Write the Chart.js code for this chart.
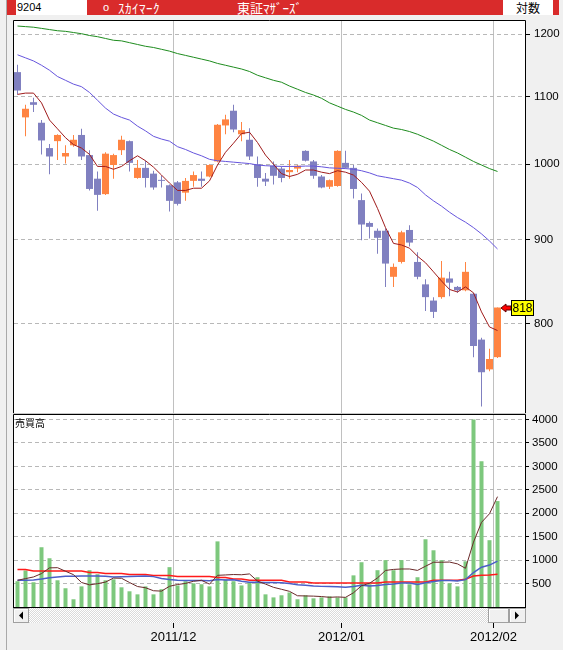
<!DOCTYPE html>
<html lang="ja">
<head>
<meta charset="utf-8">
<title>9204 スカイマーク 日足チャート</title>
<script src="https://cdn.jsdelivr.net/npm/chart.js@4.4.1/dist/chart.umd.min.js"></script>
<style>
html,body{margin:0;padding:0;background:#f0f0f0;overflow:hidden}
#page{position:relative;width:563px;height:650px;background:#f0f0f0;overflow:hidden}
.a{position:absolute}
.t{position:absolute;top:0;height:15px;line-height:15px;white-space:nowrap;font-family:'Noto Sans CJK JP',sans-serif;font-size:13px}
canvas{position:absolute;left:0;display:block}
</style>
</head>
<body>
<div id="page">
  <div class="a" style="left:6px;top:0;width:1px;height:650px;background:#a9a9a9"></div>
  <div class="a" style="left:7px;top:0;width:552px;height:15px;background:#d92b2b"></div>
  <div class="a" style="left:16px;top:0;width:71px;height:15px;background:#ffffff"></div>
  <div class="t" style="left:17px;color:#000;font-family:'Liberation Sans',sans-serif;font-size:11px">9204</div>
  <div class="t" style="left:103px;color:#fff;font-family:'Liberation Sans',sans-serif;font-size:11px">o</div>
  <div class="t" style="left:118px;color:#fff;letter-spacing:0.5px">ｽｶｲﾏｰｸ</div>
  <div class="t" style="left:237px;color:#fff">東証ﾏｻﾞｰｽﾞ</div>
  <div class="a" style="left:503px;top:0;width:50px;height:15px;background:#ffffff"></div>
  <div class="t" style="left:503px;width:50px;text-align:center;color:#000;font-size:12px">対数</div>
  <canvas id="priceChart" width="563" height="414" style="top:0"></canvas>
  <canvas id="volumeChart" width="563" height="236" style="top:414px"></canvas>
  <div class="t" style="left:15px;top:417px;height:12px;line-height:12px;font-size:10px;color:#000">売買高</div>
</div>
<script>
// ---- data ----
const dates = [
  '2011/11/01','2011/11/02','2011/11/04','2011/11/07','2011/11/08','2011/11/09','2011/11/10','2011/11/11','2011/11/14','2011/11/15',
  '2011/11/16','2011/11/17','2011/11/18','2011/11/21','2011/11/22','2011/11/24','2011/11/25','2011/11/28','2011/11/29','2011/11/30',
  '2011/12/01','2011/12/02','2011/12/05','2011/12/06','2011/12/07','2011/12/08','2011/12/09','2011/12/12','2011/12/13','2011/12/14',
  '2011/12/15','2011/12/16','2011/12/19','2011/12/20','2011/12/21','2011/12/22','2011/12/26','2011/12/27','2011/12/28','2011/12/29',
  '2011/12/30','2012/01/04','2012/01/05','2012/01/06','2012/01/10','2012/01/11','2012/01/12','2012/01/13','2012/01/16','2012/01/17',
  '2012/01/18','2012/01/19','2012/01/20','2012/01/23','2012/01/24','2012/01/25','2012/01/26','2012/01/27','2012/01/30','2012/01/31',
  '2012/02/01'
];
const open = [1138,1068,1091,1060,1023,1033,1011,1027,1042,1013,980,959,999,1020,1033,981,995,987,978,971,
  975,961,977,980,983,1004,1056,1078,1043,1035,1000,980,998,994,989,994,1019,1004,983,969,
  970,1002,995,951,921,911,911,854,872,912,872,845,826,830,852,842,838,834,782,750,763];
const high = [1150,1087,1098,1064,1029,1043,1027,1042,1051,1020,990,1017,1015,1041,1034,1006,1005,991,984,972,
  977,981,990,990,1000,1058,1072,1087,1061,1052,1011,988,1004,997,1006,999,1020,1006,985,979,
  1020,1019,999,960,923,914,914,870,911,918,884,851,830,873,860,843,872,835,784,772,818];
const low = [1103,1040,1076,1014,986,1006,1001,1025,1006,964,937,958,980,1013,990,980,968,965,968,936,
  944,950,969,969,982,1003,1043,1046,1033,1006,969,970,972,975,980,989,1004,980,967,966,
  969,994,953,899,901,882,842,842,870,891,851,814,806,828,831,835,837,763,712,748,762];
const close = [1109,1081,1087,1034,1011,1042,1016,1035,1011,966,958,1015,1013,1035,1002,995,981,968,977,950,
  946,977,985,977,999,1057,1065,1050,1049,1011,981,976,984,981,992,998,1005,984,968,978,
  1019,995,966,919,916,902,870,866,909,896,854,830,813,853,847,838,860,775,747,761,818];
const ma5 = [1103,1105,1105,1090,1064,1051,1038,1028,1023,1014,997,997,993,997,1005,1012,1005,996,985,974,
  964,964,967,967,977,999,1017,1030,1044,1046,1031,1013,1000,987,983,986,992,992,989,987,
  991,989,985,975,963,940,915,895,893,889,879,871,860,849,839,836,842,835,813,796,792];
const ma25 = [1166,1161,1156,1149,1141,1131,1125,1119,1115,1106,1094,1082,1073,1068,1064,1055,1048,1040,1036,1033,
  1025,1021,1016,1012,1007,1005,1004,1003,1002,1001,999,998,997.5,997,997,997,997.5,997.5,996.5,995,
  994.5,994,993,991,988,984,982,980,978,974,968,958,950,943,935,928,922,915,907,898,888];
const ma75 = [1214,1213,1212,1210,1208,1206,1205,1203,1201,1198,1196,1193,1190,1189,1186,1183,1180,1178,1175,1172,
  1168,1165,1162,1159,1156,1152,1149,1146,1143,1139,1133,1129,1125,1122,1116,1111,1106,1102,1097,1090,
  1085,1080,1076,1071,1064,1060,1056,1052,1050,1047,1043,1038,1033,1027,1021,1016,1010,1004,999,994,990];
const volume = [550,780,528,1275,1040,570,400,165,440,785,700,570,590,420,335,270,440,270,380,850,
  460,550,505,485,440,1400,590,550,460,528,635,270,205,250,310,165,250,185,205,228,
  205,205,675,955,485,785,1000,785,1000,485,635,1445,1210,1000,505,440,975,4000,3110,1425,2260];
const volMa5 = [570,606,641,713,835,839,763,690,523,472,498,532,617,613,523,437,411,347,339,442,
  480,502,549,570,488,676,684,693,688,706,553,489,420,378,334,240,236,232,223,207,
  215,206,304,454,505,621,780,802,811,811,781,870,955,955,959,920,826,1384,1806,1990,2354];
const volMa25 = [570,572,574,595,625,640,654,657,660,662,663,655,642,645,650,655,662,648,610,585,
  570,564,564,564,558,586,578,579,547,526,529,524,525,518,499,477,464,448,440,435,
  433,423,439,462,448,461,479,490,511,512,482,516,542,564,563,555,584,735,850,894,978];
const volMa75 = [800,800,770,770,770,770,770,770,770,735,735,713,713,713,692,692,692,670,670,670,
  650,650,650,650,650,628,628,598,598,570,570,570,570,570,535,535,535,513,513,513,
  513,513,513,513,513,513,535,535,535,535,535,535,570,570,570,570,592,660,677,685,700];
const priceTicks = [800, 900, 1000, 1100, 1200];
const volumeTicks = [500, 1000, 1500, 2000, 2500, 3000, 3500, 4000];
const priceRange = [705.5, 1222.6];
const volumeRange = [0, 4096];

// ---- styles ----
const AXIS_FONT = "'Liberation Sans Narrow','Liberation Sans',sans-serif";
const UP_COLOR = '#ff8442';
const DOWN_COLOR = '#8080c0';
const X_MIN = -0.4375, X_MAX = 63.4375;

// month boundaries derived from the dates
const monthStart = [];
dates.forEach((d, i) => { if (i > 0 && d.slice(0, 7) !== dates[i - 1].slice(0, 7)) monthStart.push(i); });
const monthTickValues = monthStart.map(i => i - 0.5);
const monthLabels = monthStart.map(i => dates[i].slice(0, 7));

const toPoints = arr => arr.map((v, i) => ({ x: i, y: v }));
const candleColors = close.map((c, i) => (c >= open[i] ? UP_COLOR : DOWN_COLOR));

Chart.defaults.font.family = AXIS_FONT;
Chart.defaults.color = '#000';

const plotFrame = {
  id: 'plotFrame',
  beforeDraw(chart) {
    const { ctx, chartArea: a } = chart;
    ctx.save();
    ctx.fillStyle = '#ffffff';
    ctx.fillRect(a.left, a.top, a.right - a.left, a.bottom - a.top);
    ctx.restore();
  },
  afterDraw(chart, args, opts) {
    const { ctx, chartArea: a } = chart;
    ctx.save();
    ctx.lineWidth = 1;
    ctx.strokeStyle = '#000';
    ctx.beginPath();
    ctx.moveTo(a.left - 0.5, a.bottom + 1);
    ctx.lineTo(a.left - 0.5, a.top - 0.5);
    ctx.lineTo(a.right + 0.5, a.top - 0.5);
    ctx.lineTo(a.right + 0.5, a.bottom + 1);
    ctx.stroke();
    ctx.strokeStyle = opts.bottomColor || '#000';
    ctx.beginPath();
    ctx.moveTo(a.left - 1, a.bottom + 0.5);
    ctx.lineTo(a.right + 1, a.bottom + 0.5);
    ctx.stroke();
    ctx.restore();
  }
};

const lastPrice = {
  id: 'lastPrice',
  afterDraw(chart) {
    const { ctx, chartArea: a, scales } = chart;
    const v = close[close.length - 1];
    const yc = Math.round(scales.y.getPixelForValue(v));
    const bx = a.right - 14, bw = 23, bh = 16;
    ctx.save();
    // arrow
    const ax = a.right - 24;
    ctx.beginPath();
    ctx.moveTo(ax, yc);
    ctx.lineTo(ax + 5, yc - 4);
    ctx.lineTo(ax + 5, yc - 2);
    ctx.lineTo(bx, yc - 2);
    ctx.lineTo(bx, yc + 2);
    ctx.lineTo(ax + 5, yc + 2);
    ctx.lineTo(ax + 5, yc + 4);
    ctx.closePath();
    ctx.fillStyle = '#ff0000';
    ctx.fill();
    ctx.strokeStyle = '#600000';
    ctx.lineWidth = 1;
    ctx.stroke();
    // box
    ctx.fillStyle = '#ffff00';
    ctx.fillRect(bx, yc - 8, bw, bh);
    ctx.strokeStyle = '#000';
    ctx.strokeRect(bx + 0.5, yc - 7.5, bw - 1, bh - 1);
    ctx.fillStyle = '#000';
    ctx.font = '12px ' + AXIS_FONT;
    ctx.textAlign = 'center';
    ctx.textBaseline = 'middle';
    ctx.fillText(String(v), bx + bw / 2, yc + 0.5);
    ctx.restore();
  }
};

const scrollBar = {
  id: 'scrollBar',
  afterDraw(chart) {
    const { ctx, chartArea: a } = chart;
    const top = a.bottom + 1, h = 15, left = a.left - 1, right = a.right + 1;
    const pc = document.createElement('canvas');
    pc.width = 2; pc.height = 2;
    const p = pc.getContext('2d');
    p.fillStyle = '#ffffff'; p.fillRect(0, 0, 2, 2);
    p.fillStyle = '#dadada'; p.fillRect(1, 0, 1, 1); p.fillRect(0, 1, 1, 1);
    ctx.save();
    ctx.fillStyle = ctx.createPattern(pc, 'repeat');
    ctx.fillRect(left, top, right - left, h);
    ctx.lineWidth = 1;
    const btn = (x, w, dir) => {
      ctx.fillStyle = '#f0f0f0';
      ctx.fillRect(x, top, w, h);
      ctx.strokeStyle = '#ffffff';
      ctx.beginPath();
      ctx.moveTo(x + 1.5, top + h - 1);
      ctx.lineTo(x + 1.5, top + 1.5);
      ctx.lineTo(x + w - 1, top + 1.5);
      ctx.stroke();
      ctx.strokeStyle = '#a0a0a0';
      ctx.strokeRect(x + 0.5, top + 0.5, w - 1, h - 1);
      if (dir !== 0) {
        const cx = Math.floor(x + w / 2), cy = Math.floor(top + h / 2) + 0.5;
        ctx.fillStyle = '#000';
        ctx.beginPath();
        ctx.moveTo(cx - 2 * dir, cy);
        ctx.lineTo(cx + 2 * dir, cy - 4);
        ctx.lineTo(cx + 2 * dir, cy + 4);
        ctx.closePath();
        ctx.fill();
      }
    };
    btn(left, 16, 1);
    btn(right - 38, 21, 0);
    btn(right - 17, 17, -1);
    ctx.restore();
  }
};

function xScale(showLabels) {
  return {
    type: 'linear',
    min: X_MIN,
    max: X_MAX,
    bounds: 'data',
    offset: false,
    afterBuildTicks: s => { s.ticks = monthTickValues.map(v => ({ value: v })); },
    afterFit: s => { s.height = showLabels ? 43 : 0; s.paddingLeft = 0; s.paddingRight = 0; },
    grid: {
      display: true, offset: false, color: '#c0c0c0', lineWidth: 1,
      drawTicks: showLabels, tickLength: 21, tickColor: '#000', tickWidth: 1, tickBorderDash: []
    },
    border: { display: false, dash: [] },
    ticks: {
      display: showLabels, autoSkip: false, maxRotation: 0, minRotation: 0, padding: 2,
      color: '#000', font: { family: AXIS_FONT, size: 13 },
      callback: (v, i) => monthLabels[i]
    }
  };
}

function yScale(type, range, tickValues, tickLength, padding) {
  return {
    type: type,
    position: 'right',
    min: range[0],
    max: range[1],
    bounds: 'data',
    beginAtZero: false,
    afterBuildTicks: s => { s.ticks = tickValues.map(v => ({ value: v })); },
    afterFit: s => { s.width = 38; s.paddingTop = 0; s.paddingBottom = 0; },
    grid: {
      display: true, color: '#b8b8b8', lineWidth: 1,
      drawTicks: true, tickLength: tickLength, tickColor: '#000', tickWidth: 1, tickBorderDash: []
    },
    border: { display: false, dash: [4, 3] },
    ticks: {
      autoSkip: false, padding: padding, color: '#000',
      font: { family: AXIS_FONT, size: 11.5 },
      callback: v => String(v)
    }
  };
}

const baseOptions = {
  responsive: false,
  maintainAspectRatio: false,
  animation: false,
  devicePixelRatio: 1,
  events: []
};

new Chart(document.getElementById('priceChart'), {
  type: 'bar',
  data: {
    datasets: [
      { type: 'line', label: '5日移動平均', data: toPoints(ma5), borderColor: '#a01c1c', borderWidth: 1, pointRadius: 0, tension: 0, order: 0 },
      { type: 'line', label: '25日移動平均', data: toPoints(ma25), borderColor: '#6655dd', borderWidth: 1, pointRadius: 0, tension: 0, order: 0 },
      { type: 'line', label: '75日移動平均', data: toPoints(ma75), borderColor: '#1e8c1e', borderWidth: 1, pointRadius: 0, tension: 0, order: 0 },
      { type: 'bar', label: '始値-終値', data: dates.map((d, i) => ({ x: i, y: [open[i], close[i]] })),
        backgroundColor: candleColors, barThickness: 7, minBarLength: 1, grouped: false, inflateAmount: 0, borderWidth: 0, order: 1 },
      { type: 'bar', label: '安値-高値', data: dates.map((d, i) => ({ x: i, y: [low[i], high[i]] })),
        backgroundColor: candleColors, barThickness: 1, grouped: false, inflateAmount: 0, borderWidth: 0, order: 2 }
    ]
  },
  options: Object.assign({}, baseOptions, {
    layout: { padding: { left: 14, top: 21, right: 0, bottom: 1 } },
    plugins: { legend: { display: false }, tooltip: { enabled: false }, plotFrame: { bottomColor: '#c8c8c8' } },
    scales: {
      x: xScale(false),
      y: yScale('logarithmic', priceRange, priceTicks, 5, 4)
    }
  }),
  plugins: [plotFrame, lastPrice]
});

new Chart(document.getElementById('volumeChart'), {
  type: 'bar',
  data: {
    datasets: [
      { type: 'line', label: '5日平均', data: toPoints(volMa5), borderColor: '#6b2a2a', borderWidth: 1, pointRadius: 0, tension: 0, order: 0 },
      { type: 'line', label: '25日平均', data: toPoints(volMa25), borderColor: '#4a5ec8', borderWidth: 1.5, pointRadius: 0, tension: 0, order: 1 },
      { type: 'line', label: '75日平均', data: toPoints(volMa75), borderColor: '#ff1a1a', borderWidth: 1.5, pointRadius: 0, tension: 0, order: 2 },
      { type: 'bar', label: '売買高', data: toPoints(volume), backgroundColor: '#7dc87d', barThickness: 4, grouped: false, inflateAmount: 0, borderWidth: 0, order: 3 }
    ]
  },
  options: Object.assign({}, baseOptions, {
    layout: { padding: { left: 14, top: 1, right: 0, bottom: 0 } },
    plugins: { legend: { display: false }, tooltip: { enabled: false }, plotFrame: { bottomColor: '#000' } },
    scales: {
      x: xScale(true),
      y: yScale('linear', volumeRange, volumeTicks, 4, 3)
    }
  }),
  plugins: [plotFrame, scrollBar]
});
</script>
</body>
</html>
